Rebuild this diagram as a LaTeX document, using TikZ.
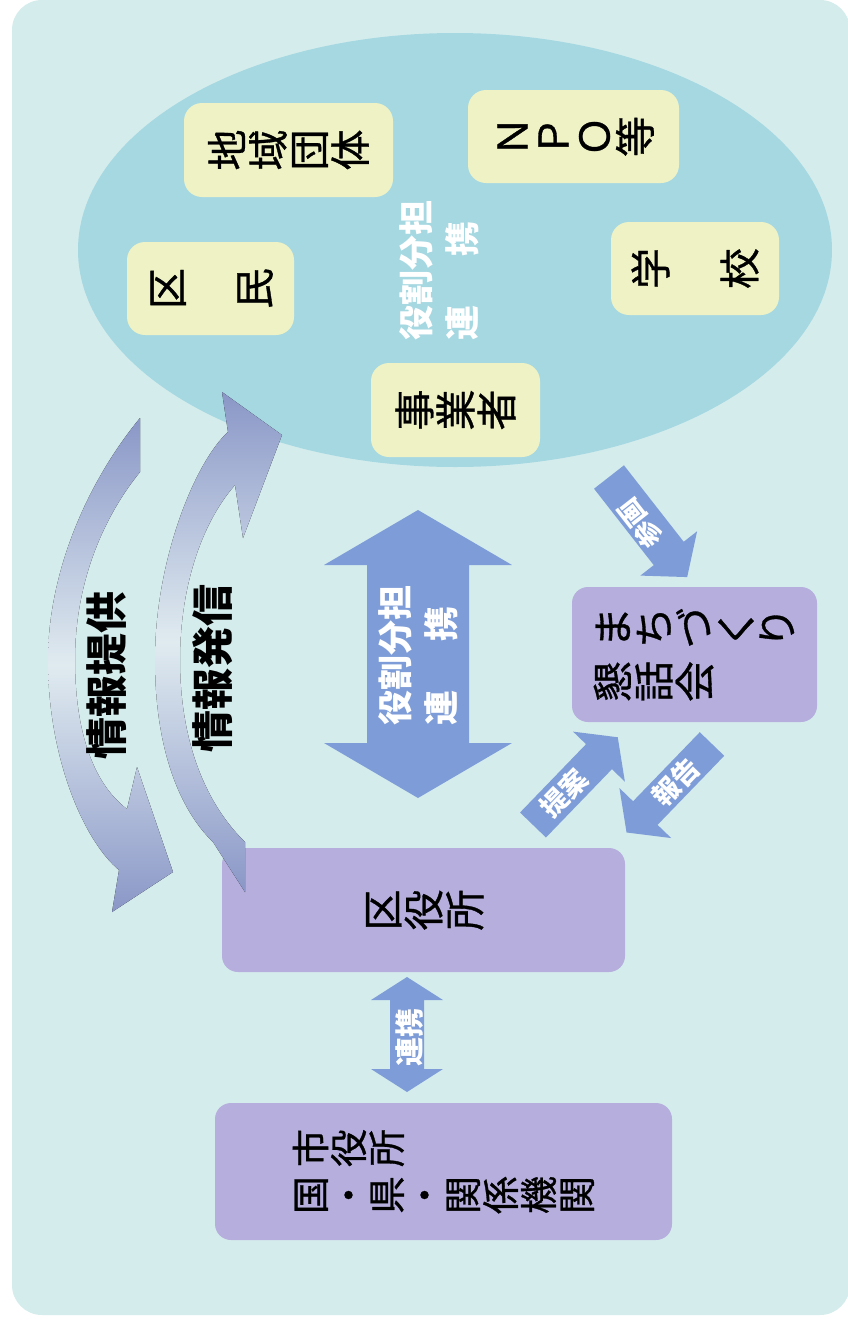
\documentclass[tikz,border=0pt]{standalone}
\usepackage{fontspec}
\usepackage{graphicx}
\newfontfamily\jp{Noto Sans CJK JP}
\newfontfamily\jpm[FakeBold=0.8]{Noto Sans CJK JP}
\usetikzlibrary{calc}
\definecolor{bgc}{HTML}{D4ECEC}
\definecolor{ellc}{HTML}{A6D8E2}
\definecolor{yelc}{HTML}{EEF2C4}
\definecolor{purc}{HTML}{B6AFDD}
\definecolor{arrc}{HTML}{7E9DD8}
\definecolor{cdark}{HTML}{8A97C7}
\definecolor{clight}{HTML}{E0EBF0}
\makeatletter
\def\my@vtend{QQ}
\newcommand\my@rc[1]{\rotatebox[origin=c]{90}{\rule[-0.12em]{0pt}{1em}\makebox[1em]{#1}}}
\def\my@vtloop#1{\ifx#1\my@vtend\else\my@rc{#1}\expandafter\my@vtloop\fi}
\newcommand\vt[1]{\my@vtloop#1\my@vtend}
\makeatother
% single block arrow: tail x, tail y, image angle (clockwise), length, shaft half width, head half width, head length
\newcommand\blockarrow[7]{%
  \begin{scope}[shift={(#1,#2)},rotate=-#3]
    \fill[arrc] (0,-#5) -- ({#4-#7},-#5) -- ({#4-#7},-#6) -- (#4,0) -- ({#4-#7},#6) -- ({#4-#7},#5) -- (0,#5) -- cycle;
  \end{scope}}
% double block arrow: centre x, centre y, image angle, length, shaft half width, head half width, head length
\newcommand\dblarrow[7]{%
  \begin{scope}[shift={(#1,#2)},rotate=-#3]
    \fill[arrc] ({-#4/2},0) -- ({-#4/2+#7},-#6) -- ({-#4/2+#7},-#5) -- ({#4/2-#7},-#5) -- ({#4/2-#7},-#6) -- ({#4/2},0)
      -- ({#4/2-#7},#6) -- ({#4/2-#7},#5) -- ({-#4/2+#7},#5) -- ({-#4/2+#7},#6) -- cycle;
  \end{scope}}
\begin{document}
\begin{tikzpicture}[x=1pt,y=-1pt,
  ybox/.style={fill=yelc,rounded corners=18pt,inner sep=0pt,font=\jpm\fontsize{41}{41}\selectfont},
  pbox/.style={fill=purc,rounded corners=16pt,inner sep=0pt,align=left},
  wlab/.style={text=white,font=\jp\bfseries\fontsize{35}{46}\selectfont,align=left,rotate=90,inner sep=0pt},
  slab/.style={text=white,font=\jp\bfseries\fontsize{27}{27}\selectfont,inner sep=0pt},
  klab/.style={text=black,font=\jp\bfseries\fontsize{42}{42}\selectfont,rotate=90,inner sep=0pt},
  curv/.style={top color=cdark,bottom color=cdark,middle color=clight}]
\useasboundingbox (0,0) rectangle (848,1326);
\fill[white] (0,0) rectangle (848,1326);
\fill[bgc,rounded corners=30pt] (12,0) rectangle (850,1315);
% ellipse
\fill[ellc] (455,250) ellipse [x radius=377, y radius=217];
% yellow boxes
\node[ybox,minimum width=209pt,minimum height=94pt] (chiiki) at (288.5,150) {\vt{地域団体}};
\node[ybox,minimum width=211pt,minimum height=93pt] (npo) at (573.5,136.5) {\vt{ＮＰＯ等}};
\node[ybox,minimum width=167pt,minimum height=93pt] (kumin) at (210.5,288.5) {\vt{区}\hspace{46pt}\vt{民}};
\node[ybox,minimum width=168pt,minimum height=93pt] (gakko) at (695,268.5) {\vt{学}\hspace{48pt}\vt{校}};
\node[ybox,minimum width=169pt,minimum height=94pt] (jigyo) at (455.5,410) {\vt{事業者}};
\node[wlab] (yakuwari1) at (439,270) {役割分担\\連\hspace{1.4em}携};
% purple boxes
\node[pbox,minimum width=403pt,minimum height=124pt,font=\jpm\fontsize{41}{41}\selectfont] (kuyakusho) at (423.5,910) {\vt{区役所}};
\node[pbox,minimum width=457pt,minimum height=137pt,font=\jpm\fontsize{38}{47}\selectfont] (shiyakusho) at (443.5,1171.5) {\vt{市役所}\\\vt{国・県・関係機関}};
\node[pbox,minimum width=245pt,minimum height=135pt,font=\jpm\fontsize{41}{54}\selectfont] (machi) at (694.5,654.5) {\vt{まちづくり}\\\vt{懇話会}};
% block arrows
\dblarrow{418}{654}{90}{288}{51}{94}{55}
\node[wlab] (yakuwari2) at (418,655) {役割分担\\連\hspace{1.4em}携};
\dblarrow{407}{1034.5}{90}{115}{17}{36}{23}
\node[slab,font=\jp\bfseries\fontsize{29}{29}\selectfont,rotate=90] (renkei) at (410,1037) {連携};
\blockarrow{609}{477}{52}{127}{19}{36}{30}
\node[slab,rotate=128] (sankaku) at (640,524) {参画};
\blockarrow{533}{825}{-46}{122}{18}{36}{27}
\node[slab,rotate=46] (teian) at (564,793) {提案};
\blockarrow{712}{744}{134}{123}{17}{36}{27}
\node[slab,rotate=46] (hokoku) at (676,782) {報告};
% curved arrows
% outer: information provision (head at bottom)
\fill[curv] (140,418) .. controls (85,485) and (48,575) .. (48,660)
  .. controls (48,760) and (85,842) .. (119,870)
  -- (112,912) -- (173,872) -- (137,767) -- (127,809)
  .. controls (95,785) and (75,735) .. (75,660)
  .. controls (75,580) and (105,515) .. (140,472) -- cycle;
% inner: information dissemination (head at top)
\fill[curv] (245,892) -- (245,842) .. controls (202,800) and (180,735) .. (180,660)
  .. controls (180,590) and (200,525) .. (235,485)
  -- (243,538) -- (282,435) -- (222,392) -- (228,432)
  .. controls (195,462) and (155,560) .. (155,660)
  .. controls (155,750) and (180,810) .. (213,842) -- cycle;
\node[klab] (teikyo) at (107,675) {情報提供};
\node[klab] (hasshin) at (213,668) {情報発信};
\end{tikzpicture}
\end{document}
